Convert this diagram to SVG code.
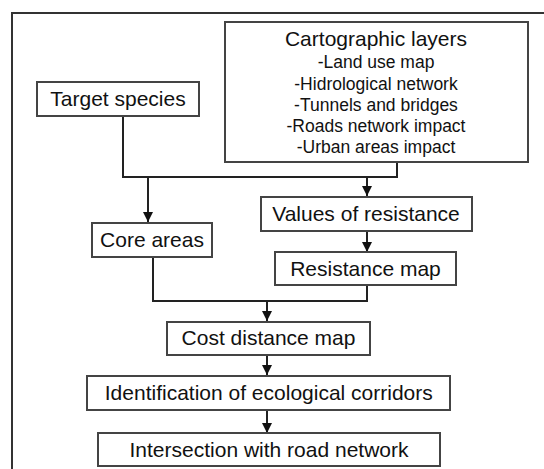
<svg xmlns="http://www.w3.org/2000/svg" width="544" height="469" viewBox="0 0 544 469">
<style>
.box{fill:#fff;stroke:#444;stroke-width:2}
.t{font-family:"Liberation Sans",Arial,sans-serif;font-size:21px;fill:#111;text-anchor:middle}
.s{font-family:"Liberation Sans",Arial,sans-serif;font-size:17.5px;fill:#111;text-anchor:middle}
.ln{fill:none;stroke:#222;stroke-width:2}
</style>
<defs>
<marker id="ah" markerWidth="10" markerHeight="10" refX="10" refY="5" orient="auto" markerUnits="userSpaceOnUse">
<path d="M0,0 L10,5 L0,10 Z" fill="#111"/>
</marker>
</defs>
<rect x="0" y="0" width="544" height="469" fill="#fff"/>
<rect id="frame" x="12" y="13" width="560" height="480" fill="none" stroke="#333" stroke-width="2"/>
<g id="connectors">
<polyline class="ln" points="123,116 123,177 397,177 397,162"/>
<line class="ln" x1="148" y1="177" x2="148" y2="222" marker-end="url(#ah)"/>
<line class="ln" x1="367" y1="177" x2="367" y2="196" marker-end="url(#ah)"/>
<line class="ln" x1="367" y1="231" x2="367" y2="252" marker-end="url(#ah)"/>
<polyline class="ln" points="153,257 153,301 367,301 367,285"/>
<line class="ln" x1="267" y1="301" x2="267" y2="321" marker-end="url(#ah)"/>
<line class="ln" x1="267" y1="355" x2="267" y2="375" marker-end="url(#ah)"/>
<line class="ln" x1="267" y1="410" x2="267" y2="433" marker-end="url(#ah)"/>
</g>
<g id="target-species">
<rect class="box" x="37" y="82" width="162" height="34"/>
<text class="t" x="118" y="106">Target species</text>
</g>
<g id="cartographic-layers">
<rect class="box" x="225" y="22" width="303" height="140"/>
<text class="t" x="376" y="46">Cartographic layers</text>
<text class="s" x="376" y="68">-Land use map</text>
<text class="s" x="376" y="90">-Hidrological network</text>
<text class="s" x="376" y="111">-Tunnels and bridges</text>
<text class="s" x="376" y="132">-Roads network impact</text>
<text class="s" x="376" y="153">-Urban areas impact</text>
</g>
<g id="values-of-resistance">
<rect class="box" x="261" y="197" width="211" height="34"/>
<text class="t" x="366" y="221">Values of resistance</text>
</g>
<g id="core-areas">
<rect class="box" x="92" y="223" width="120" height="34"/>
<text class="t" x="152" y="247">Core areas</text>
</g>
<g id="resistance-map">
<rect class="box" x="275" y="252" width="181" height="33"/>
<text class="t" x="365.5" y="276">Resistance map</text>
</g>
<g id="cost-distance-map">
<rect class="box" x="167" y="322" width="203" height="33"/>
<text class="t" x="268.5" y="345">Cost distance map</text>
</g>
<g id="identification">
<rect class="box" x="87" y="376" width="363" height="34"/>
<text class="t" x="268.8" y="400">Identification of ecological corridors</text>
</g>
<g id="intersection">
<rect class="box" x="98" y="433" width="342" height="33"/>
<text class="t" x="269" y="457">Intersection with road network</text>
</g>
</svg>
